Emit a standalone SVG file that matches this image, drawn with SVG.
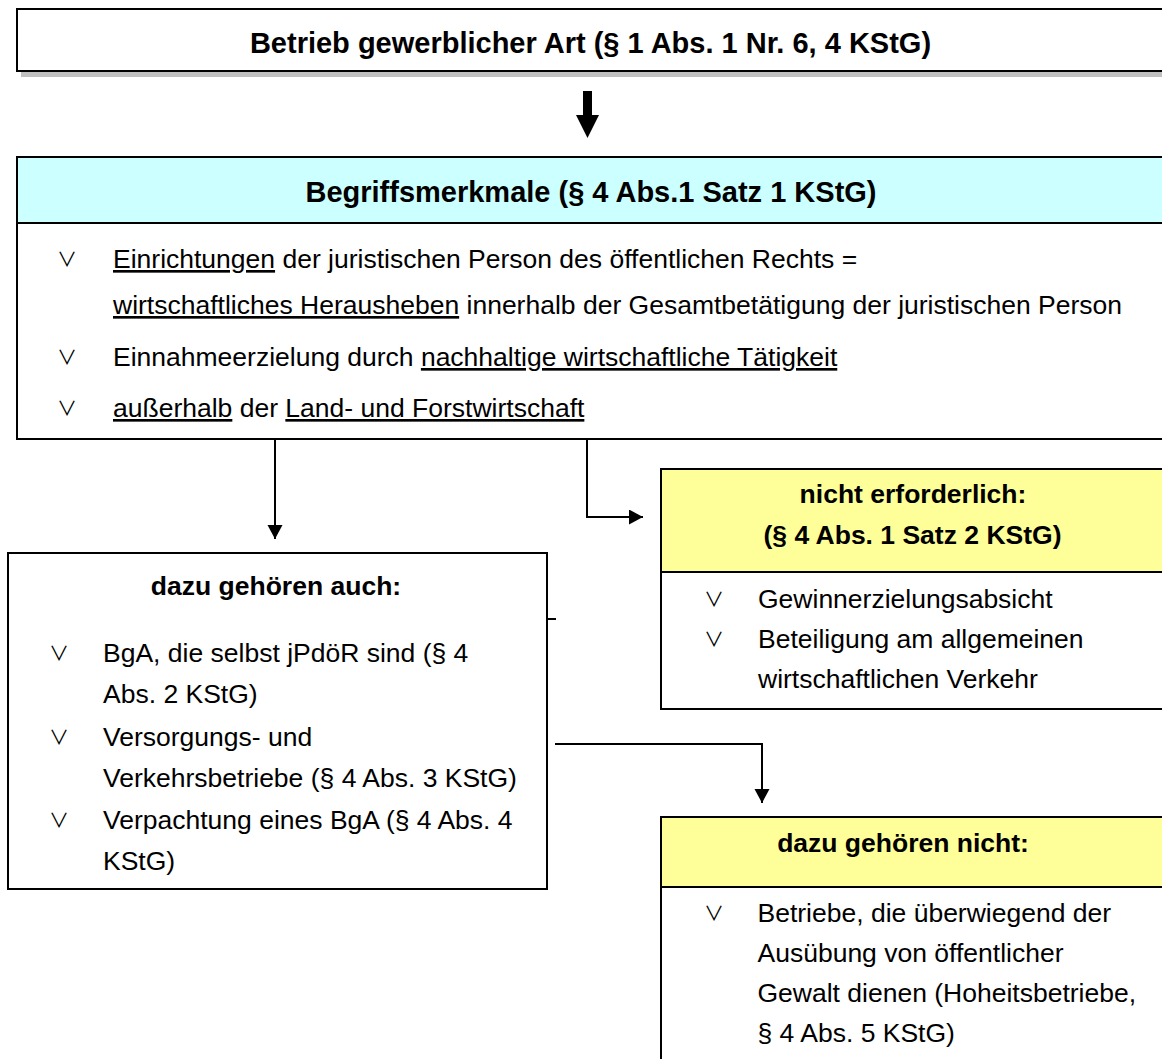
<svg xmlns="http://www.w3.org/2000/svg" width="1162" height="1059" viewBox="0 0 1162 1059">
<style>
.box{fill:#fff;stroke:#000;stroke-width:2}
.cyan{fill:#ccffff;stroke:#000;stroke-width:2}
.yellow{fill:#ffff99;stroke:#000;stroke-width:2}
.t{font-family:"Liberation Sans",Arial,sans-serif;font-size:26.5px;fill:#000}
.h{font-family:"Liberation Sans",Arial,sans-serif;font-weight:bold;font-size:26.5px;fill:#000;text-anchor:middle}
.big{font-size:29px}
.bul{font-family:"Noto Sans CJK JP","DejaVu Sans",sans-serif;font-size:20px;font-weight:400;fill:#000}
.u{text-decoration:underline}
.c{fill:none;stroke:#000;stroke-width:2}
</style>
<defs>
<marker id="ah" markerUnits="userSpaceOnUse" markerWidth="16" markerHeight="16" refX="14" refY="7.5" orient="auto">
<path d="M0,0 L14,7.5 L0,15 z" fill="#000"/>
</marker>
</defs>

<g id="betrieb">
<rect x="21" y="15" width="1160" height="62" fill="#c0c0c0"/>
<rect class="box" x="17" y="9" width="1160" height="62"/>
<text class="h big" x="590.5" y="53">Betrieb gewerblicher Art (§ 1 Abs. 1 Nr. 6, 4 KStG)</text>
</g>

<g id="begriffsmerkmale">
<rect class="box" x="17" y="157" width="1160" height="282"/>
<rect class="cyan" x="17" y="157" width="1160" height="66"/>
<text class="h big" x="591" y="202">Begriffsmerkmale (§ 4 Abs.1 Satz 1 KStG)</text>
<text class="bul" x="57" y="267">∨</text>
<text class="t" x="113" y="268"><tspan class="u">Einrichtungen</tspan> der juristischen Person des öffentlichen Rechts =</text>
<text class="t" x="113" y="314"><tspan class="u">wirtschaftliches Herausheben</tspan> innerhalb der Gesamtbetätigung der juristischen Person</text>
<text class="bul" x="57" y="365">∨</text>
<text class="t" x="113" y="366">Einnahmeerzielung durch <tspan class="u">nachhaltige wirtschaftliche Tätigkeit</tspan></text>
<text class="bul" x="57" y="416">∨</text>
<text class="t" x="113" y="417"><tspan class="u">außerhalb</tspan> der <tspan class="u">Land- und Forstwirtschaft</tspan></text>
</g>

<g id="auch">
<rect class="box" x="8" y="553" width="539" height="336"/>
<text class="h" x="276" y="595">dazu gehören auch:</text>
<text class="bul" x="49" y="661">∨</text>
<text class="t" x="103" y="662">BgA, die selbst jPdöR sind (§ 4</text>
<text class="t" x="103" y="703">Abs. 2 KStG)</text>
<text class="bul" x="49" y="745">∨</text>
<text class="t" x="103" y="746">Versorgungs- und</text>
<text class="t" x="103" y="787">Verkehrsbetriebe (§ 4 Abs. 3 KStG)</text>
<text class="bul" x="49" y="828">∨</text>
<text class="t" x="103" y="829">Verpachtung eines BgA (§ 4 Abs. 4</text>
<text class="t" x="103" y="870">KStG)</text>
</g>

<g id="nicht-erforderlich">
<rect class="box" x="661" y="469" width="520" height="240"/>
<rect class="yellow" x="661" y="469" width="520" height="103"/>
<text class="h" x="913" y="503">nicht erforderlich:</text>
<text class="h" x="912.5" y="544">(§ 4 Abs. 1 Satz 2 KStG)</text>
<text class="bul" x="704" y="607">∨</text>
<text class="t" x="758" y="608">Gewinnerzielungsabsicht</text>
<text class="bul" x="704" y="647">∨</text>
<text class="t" x="758" y="648">Beteiligung am allgemeinen</text>
<text class="t" x="758" y="688">wirtschaftlichen Verkehr</text>
</g>

<g id="nicht">
<rect class="box" x="661" y="817" width="520" height="260"/>
<rect class="yellow" x="661" y="817" width="520" height="70"/>
<text class="h" x="903" y="852">dazu gehören nicht:</text>
<text class="bul" x="704" y="921">∨</text>
<text class="t" x="757.5" y="922">Betriebe, die überwiegend der</text>
<text class="t" x="757.5" y="962">Ausübung von öffentlicher</text>
<text class="t" x="757.5" y="1002">Gewalt dienen (Hoheitsbetriebe,</text>
<text class="t" x="757.5" y="1042">§ 4 Abs. 5 KStG)</text>
</g>

<g id="connectors">
<polygon points="583,91 592,91 592,115 599,115 587.5,138 576,115 583,115" fill="#000"/>
<line class="c" x1="275" y1="440" x2="275" y2="539" marker-end="url(#ah)"/>
<path class="c" d="M587,440 V517 H643" marker-end="url(#ah)"/>
<path class="c" d="M555,744 H762 V803" marker-end="url(#ah)"/>
<line class="c" x1="547" y1="619" x2="556" y2="619"/>
</g>
</svg>
